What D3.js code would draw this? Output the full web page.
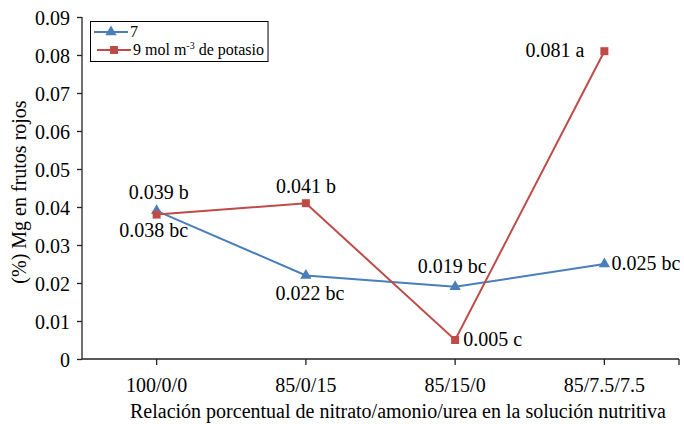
<!DOCTYPE html>
<html><head><meta charset="utf-8">
<script src="https://cdn.jsdelivr.net/npm/d3@7"></script>
</head><body style="margin:0;background:#fff">
<svg id="c" width="684" height="424" style="display:block"></svg>
<script>
const categories = ["100/0/0","85/0/15","85/15/0","85/7.5/7.5"];
const series7 = [0.039,0.022,0.019,0.025];
const series9 = [0.038,0.041,0.005,0.081];
const labels7 = ["0.039 b","0.022 bc","0.019 bc","0.025 bc"];
const labels9 = ["0.038 bc","0.041 b","0.005 c","0.081 a"];
const yTicks = [0,0.01,0.02,0.03,0.04,0.05,0.06,0.07,0.08,0.09];
const yTickLabels = ["0","0.01","0.02","0.03","0.04","0.05","0.06","0.07","0.08","0.09"];

const svg = d3.select("#c");
const L=82, R=679, T=17, B=359;
const x = d3.scaleBand().domain(categories).range([L,R]);
const cx = c => x(c)+x.bandwidth()/2;
const y = d3.scaleLinear().domain([0,0.09]).range([B,T]);
const axisCol="#222";
const fst = s => `font-family:'Liberation Serif','Times New Roman','DejaVu Serif',serif !important;font-size:${s}px !important;fill:#000`;

// y axis
const ya = svg.append("g").attr("transform",`translate(${L},0)`)
  .call(d3.axisLeft(y).tickValues(yTicks).tickFormat((d,i)=>yTickLabels[i]).tickSize(5).tickPadding(7));
ya.attr("font-family","Liberation Serif");
ya.select(".domain").attr("stroke",axisCol).attr("stroke-width",1.3).attr("d",`M0,${T}V${B}`);
ya.selectAll(".tick line").attr("stroke",axisCol).attr("stroke-width",1.3);
ya.selectAll(".tick text").attr("style",fst(20)).attr("dy","0.35em");

// x axis
const xa = svg.append("g").attr("transform",`translate(0,${B})`)
  .call(d3.axisBottom(x).tickSize(6).tickPadding(13));
xa.attr("font-family","Liberation Serif");
xa.select(".domain").attr("stroke",axisCol).attr("stroke-width",1.3).attr("d",`M${L},0H${R}`);
xa.selectAll(".tick line").attr("stroke",axisCol).attr("stroke-width",1.3);
xa.selectAll(".tick text").attr("style",fst(20));
xa.append("line").attr("x1",R).attr("x2",R).attr("y1",0).attr("y2",6).attr("stroke",axisCol).attr("stroke-width",1.3);

function txt(parent, xx, yy, s, size, anchor){
  return parent.append("text").attr("x",xx).attr("y",yy).attr("style",fst(size))
    .attr("text-anchor",anchor||"start").text(s);
}

// axis titles
txt(svg,398,418,"Relación porcentual de nitrato/amonio/urea en la solución nutritiva",20,"middle");
svg.append("text").attr("transform","translate(26,192) rotate(-90)").attr("text-anchor","middle")
  .attr("style",fst(20)).text("(%) Mg en frutos rojos");

const blue="#4A7EBB", red="#BE4B48";
const line = d3.line().x((d,i)=>cx(categories[i])).y(d=>y(d));
svg.append("path").datum(series7).attr("d",line).attr("fill","none").attr("stroke",blue).attr("stroke-width",2);
svg.append("path").datum(series9).attr("d",line).attr("fill","none").attr("stroke",red).attr("stroke-width",2);
const tri = d3.symbol().type(d3.symbolTriangle).size(55);
svg.selectAll(".t").data(series7).join("path").attr("d",tri)
  .attr("transform",(d,i)=>`translate(${cx(categories[i])},${y(d)})`).attr("fill",blue);
svg.selectAll(".s").data(series9).join("rect")
  .attr("x",(d,i)=>cx(categories[i])-4).attr("y",d=>y(d)-4).attr("width",8).attr("height",8).attr("fill",red);

// data labels
const off7 = [[2,-12,"middle"],[4,25,"middle"],[-3,-14,"middle"],[7,6,"start"]];
const off9 = [[-3,22,"middle"],[0,-10,"middle"],[8,6,"start"],[-20,6,"end"]];
series7.forEach((v,i)=>{const o=off7[i]; txt(svg,cx(categories[i])+o[0],y(v)+o[1],labels7[i],20,o[2]);});
series9.forEach((v,i)=>{const o=off9[i]; txt(svg,cx(categories[i])+o[0],y(v)+o[1],labels9[i],20,o[2]);});

// legend
const lg = svg.append("g");
const box = lg.append("rect").attr("x",90.5).attr("y",21.5).attr("width",172).attr("height",40).attr("fill","#fff").attr("stroke","#000").attr("stroke-width",1);
lg.append("line").attr("x1",94).attr("x2",128).attr("y1",32).attr("y2",32).attr("stroke",blue).attr("stroke-width",2);
lg.append("path").attr("d",tri).attr("transform","translate(111,32)").attr("fill",blue);
txt(lg,130,37,"7",16);
lg.append("line").attr("x1",97).attr("x2",131).attr("y1",50).attr("y2",50).attr("stroke",red).attr("stroke-width",2);
lg.append("rect").attr("x",110).attr("y",46).attr("width",8).attr("height",8).attr("fill",red);
const t2 = txt(lg,133,55,"",16);
t2.append("tspan").text("9 mol m");
t2.append("tspan").attr("dy",-6).attr("style","font-size:10px !important").text("-3");
t2.append("tspan").attr("dy",6).text(" de potasio");
const bb = t2.node().getBBox();
box.attr("width", Math.max(172, bb.x + bb.width + 4 - 90.5));
</script></body></html>
